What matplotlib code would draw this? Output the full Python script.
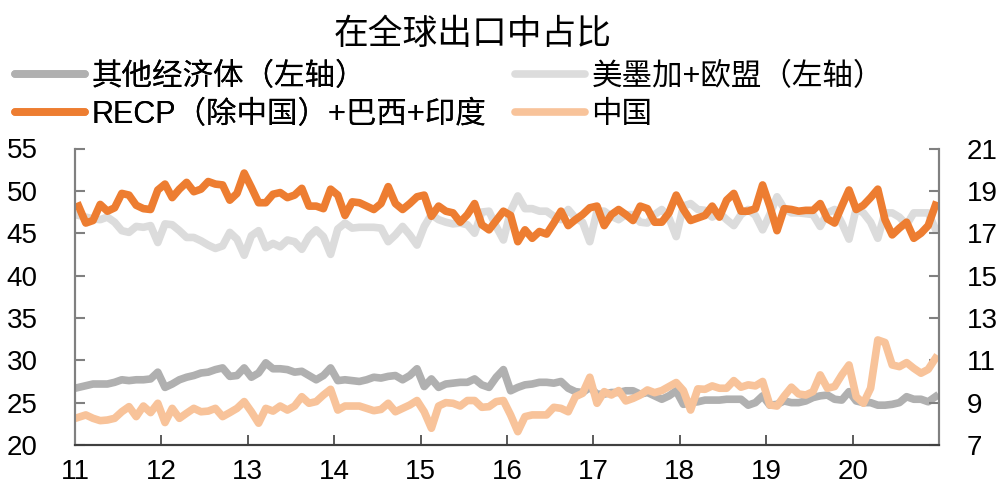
"""Share of global exports: four regional groups, monthly 2011-2020."""
import matplotlib

matplotlib.use("Agg")
import matplotlib.pyplot as plt
import numpy as np
from matplotlib.lines import Line2D

plt.rcParams["font.family"] = ["Liberation Sans", "Noto Sans CJK SC"]

# monthly index, Jan 2011 .. Dec 2020
YEAR_LABELS = ["11", "12", "13", "14", "15", "16", "17", "18", "19", "20"]

SERIES_NAMES = [
    "其他经济体（左轴）",
    "美墨加+欧盟（左轴）",
    "RECP（除中国）+巴西+印度",
    "中国",
]

other_economies = [
    26.8, 27.0, 27.2, 27.2, 27.2, 27.4, 27.7, 27.6, 27.7, 27.7, 27.8, 28.6,
    26.8, 27.2, 27.7, 28.0, 28.2, 28.5, 28.6, 28.9, 29.1, 28.1, 28.2, 29.1,
    28.0, 28.5, 29.7, 29.0, 29.0, 28.9, 28.6, 28.7, 28.2, 27.7, 28.2, 29.1,
    27.6, 27.7, 27.6, 27.5, 27.7, 28.0, 27.9, 28.1, 28.2, 27.7, 28.2, 29.0,
    26.9, 27.8, 26.8, 27.2, 27.3, 27.4, 27.4, 27.8, 27.1, 26.8, 28.0, 28.9,
    26.4, 26.8, 27.1, 27.2, 27.4, 27.4, 27.3, 27.5, 26.7, 26.3, 26.2, 26.8,
    26.0, 26.0, 26.2, 26.2, 26.4, 26.4, 26.0, 26.2, 25.8, 25.4, 25.8, 26.4,
    24.8, 25.0, 25.1, 25.3, 25.3, 25.3, 25.4, 25.4, 25.4, 24.7, 25.0, 25.8,
    24.7, 24.8, 25.2, 25.0, 25.0, 25.2, 25.6, 25.8, 25.9, 25.4, 25.3, 26.3,
    25.2, 25.0, 25.0, 24.7, 24.7, 24.8, 25.0, 25.7, 25.4, 25.4, 25.1, 25.7,
]

usmca_eu = [
    47.1, 46.9, 46.7, 46.6, 46.9, 46.3, 45.3, 45.1, 45.8, 45.7, 45.9, 43.9,
    46.1, 46.0, 45.3, 44.5, 44.5, 44.1, 43.6, 43.2, 43.5, 45.1, 44.3, 42.4,
    44.7, 45.3, 43.3, 43.8, 43.4, 44.2, 44.0, 43.1, 44.6, 45.4, 44.6, 42.5,
    45.5, 46.2, 45.6, 45.7, 45.7, 45.7, 45.6, 44.0, 44.8, 45.8, 44.8, 43.6,
    45.8, 47.2, 46.6, 46.3, 46.1, 46.2, 46.0, 45.0, 47.5, 47.6, 45.8, 44.2,
    47.6, 49.4, 47.9, 47.9, 47.6, 47.6, 47.0, 46.6, 47.8, 46.8, 46.3, 44.0,
    47.6, 47.6, 47.0, 46.6, 47.2, 47.2, 46.3, 46.2, 47.2, 47.8, 46.8, 44.6,
    48.2, 48.5, 47.8, 47.7, 46.9, 47.4, 46.6, 45.9, 47.2, 47.8, 47.1, 45.4,
    47.2, 49.3, 47.9, 47.4, 47.4, 47.3, 47.2, 45.8, 47.4, 47.8, 46.2, 44.3,
    47.9, 47.4, 46.3, 44.4, 47.4, 47.4, 46.9, 46.0, 47.4, 47.4, 47.4, 45.5,
]

rcep_brazil_india = [
    48.2, 46.2, 46.5, 48.4, 47.6, 48.0, 49.7, 49.5, 48.3, 47.9, 47.8, 50.1,
    50.8, 49.2, 50.2, 51.0, 49.9, 50.2, 51.1, 50.8, 50.7, 48.9, 49.7, 52.1,
    50.4, 48.6, 48.6, 49.6, 49.8, 49.2, 49.5, 50.3, 48.2, 48.2, 47.9, 50.2,
    49.5, 47.1, 48.7, 48.6, 48.2, 47.8, 48.5, 50.5, 48.5, 47.8, 48.5, 49.3,
    49.5, 47.0, 48.2, 47.6, 47.4, 46.3, 47.2, 48.5, 46.0, 45.4, 46.5, 47.6,
    47.1, 44.0, 45.4, 44.4, 45.2, 44.9, 46.2, 47.6, 45.9, 46.6, 47.2, 48.0,
    48.2, 45.9, 47.2, 47.8, 47.2, 46.5, 48.2, 47.9, 46.3, 46.3, 47.4, 49.5,
    47.8, 46.5, 46.8, 47.1, 48.2, 46.9, 48.9, 49.7, 47.6, 47.6, 47.9, 50.7,
    48.2, 45.3, 47.9, 47.8, 47.6, 47.7, 47.7, 48.5, 46.7, 46.2, 48.2, 50.1,
    47.8, 48.3, 49.2, 50.2, 46.6, 44.8, 45.6, 46.3, 44.4, 45.0, 45.9, 48.3,
]

china = [
    8.31, 8.42, 8.26, 8.15, 8.18, 8.26, 8.57, 8.81, 8.34, 8.84, 8.53, 8.97,
    8.06, 8.73, 8.26, 8.50, 8.73, 8.57, 8.60, 8.73, 8.34, 8.53, 8.73, 9.05,
    8.57, 8.03, 8.73, 8.60, 8.84, 8.65, 8.84, 9.28, 8.97, 9.05, 9.36, 9.63,
    8.65, 8.84, 8.84, 8.84, 8.73, 8.62, 8.68, 8.97, 8.57, 8.73, 8.89, 9.10,
    8.57, 7.79, 8.84, 9.00, 8.97, 8.84, 9.10, 9.10, 8.78, 8.81, 9.05, 9.10,
    8.42, 7.63, 8.34, 8.42, 8.42, 8.42, 8.78, 8.73, 8.57, 9.28, 9.44, 10.20,
    8.97, 9.52, 9.36, 9.57, 9.08, 9.20, 9.36, 9.60, 9.47, 9.57, 9.76, 9.95,
    9.57, 8.65, 9.65, 9.63, 9.79, 9.68, 9.68, 10.04, 9.73, 9.84, 9.79, 10.00,
    8.89, 8.84, 9.31, 9.73, 9.41, 9.36, 9.52, 10.31, 9.68, 9.76, 10.31, 10.78,
    9.28, 8.97, 9.68, 11.96, 11.84, 10.78, 10.70, 10.89, 10.62, 10.39, 10.57, 11.09,
]

COLORS = ["#b0b0b0", "#dcdcdc", "#ed7d31", "#f8c39a"]
LW = 5.5
TICK_FS = 20
LEGEND_FS = 22


def style_axis(ax):
    ax.spines["top"].set_visible(False)
    for side in ("left", "right"):
        ax.spines[side].set_color("#808080")
        ax.spines[side].set_linewidth(1.5)
    ax.spines["bottom"].set_color("#404040")
    ax.spines["bottom"].set_linewidth(1.5)


def main():
    fig = plt.figure(figsize=(10.07, 5.04), dpi=100)
    ax = fig.add_axes([75 / 1007, 1 - 445 / 504, 864 / 1007, 296.5 / 504])
    ax2 = ax.twinx()

    x = np.arange(len(china))
    ax.plot(x, other_economies, color=COLORS[0], lw=LW, solid_joinstyle="round")
    ax.plot(x, usmca_eu, color=COLORS[1], lw=LW, solid_joinstyle="round")
    ax.plot(x, rcep_brazil_india, color=COLORS[2], lw=LW, solid_joinstyle="round")
    ax2.plot(x, china, color=COLORS[3], lw=LW, solid_joinstyle="round")

    ax.set_xlim(-0.5, len(china) - 0.5)
    ax.set_ylim(20, 55)
    ax.set_yticks(np.arange(20, 56, 5))
    ax2.set_ylim(7, 21)
    ax2.set_yticks(np.arange(7, 22, 2))
    ax.set_xticks(np.arange(len(YEAR_LABELS)) * 12 - 0.5)
    ax.set_xticklabels(YEAR_LABELS)

    for a in (ax, ax2):
        style_axis(a)
    ax.tick_params(axis="y", direction="in", length=7, width=1.5, color="#808080",
                   labelsize=TICK_FS, pad=27)
    ax.tick_params(axis="x", direction="in", length=7, width=1.2, color="#404040",
                   labelsize=TICK_FS, pad=10)
    ax2.tick_params(axis="y", direction="in", length=7, width=1.5, color="#808080",
                    labelsize=TICK_FS, pad=20)

    fig.text(473 / 1007, 1 - 34 / 504, "在全球出口中占比", ha="center", va="center",
             fontsize=25)

    handles = [Line2D([], [], color=c, lw=LW, solid_capstyle="round") for c in COLORS]
    common = dict(frameon=False, fontsize=LEGEND_FS, handlelength=2.3,
                  handletextpad=0.2, labelspacing=0.25, borderpad=0,
                  borderaxespad=0, loc="center left")
    leg1 = fig.legend([handles[0], handles[2]], [SERIES_NAMES[0], SERIES_NAMES[2]],
                      bbox_to_anchor=(15 / 1007, 1 - 96 / 504), **common)
    fig.add_artist(leg1)
    fig.legend([handles[1], handles[3]], [SERIES_NAMES[1], SERIES_NAMES[3]],
               bbox_to_anchor=(515 / 1007, 1 - 96 / 504), **common)

    fig.savefig("out.png", dpi=100)
    plt.close(fig)


if __name__ == "__main__":
    main()
